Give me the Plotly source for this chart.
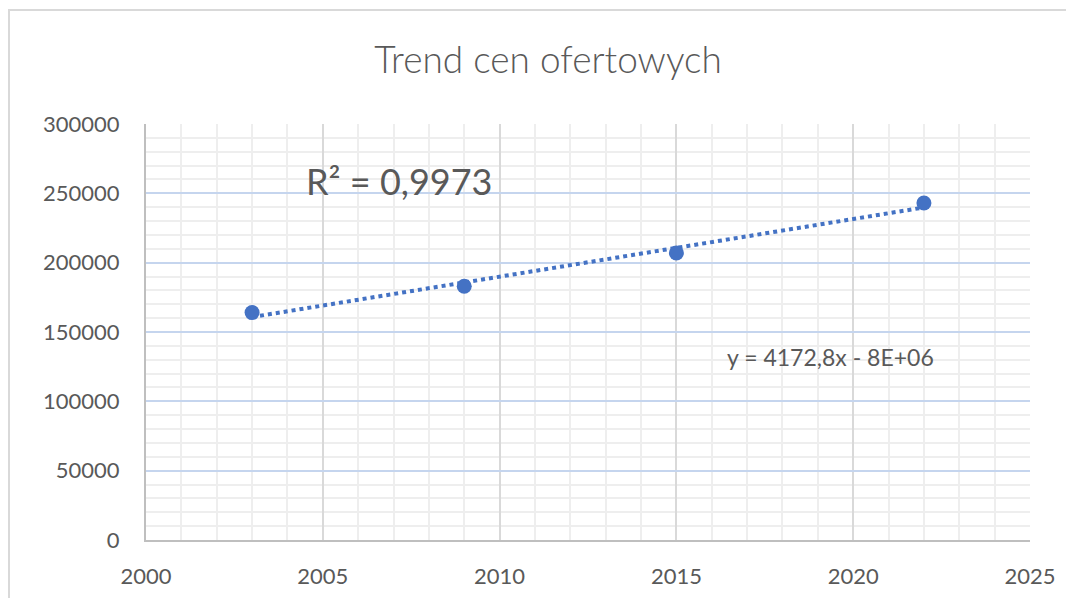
import numpy as np
import plotly.graph_objects as go

# ---- data ----
years = [2003, 2009, 2015, 2022]
prices = [164000, 183000, 207000, 243000]
title_text = "Trend cen ofertowych"
r2_label = "R² = 0,9973"
eq_label = "y = 4172,8x - 8E+06"
x_ticks = [2000, 2005, 2010, 2015, 2020, 2025]
y_ticks = [0, 50000, 100000, 150000, 200000, 250000, 300000]

BLUE = "#4472C4"
TXT = "#595959"
FONT = "Lato"

# linear trend from the data
coef = np.polyfit(years, prices, 1)
trend_x = [years[0], years[-1]]
trend_y = list(np.polyval(coef, trend_x))

fig = go.Figure()
fig.add_trace(go.Scatter(
    x=trend_x, y=trend_y, mode="lines",
    line=dict(color=BLUE, width=4, dash="dot"),
    hoverinfo="skip", showlegend=False,
))
fig.add_trace(go.Scatter(
    x=years, y=prices, mode="markers",
    marker=dict(color=BLUE, size=15),
    showlegend=False,
))

L, R, T, B = 138, 52, 116, 66
PW = 1074 - L - R
PH = 598 - T - B

fig.update_layout(
    width=1074, height=598,
    margin=dict(l=L, r=R, t=T, b=B),
    paper_bgcolor="white", plot_bgcolor="white",
    title=dict(text=title_text, x=540 / 1074, xanchor="center", xref="container",
               y=1 - 52 / 598, yanchor="middle", yref="container",
               font=dict(family=FONT, size=37, color=TXT, weight=300)),
    font=dict(family=FONT, color=TXT),
    xaxis=dict(
        range=[2000, 2025], tickvals=x_ticks, ticktext=[str(v) for v in x_ticks],
        showgrid=True, gridcolor="#D9D9D9", gridwidth=2,
        minor=dict(dtick=1, tick0=2000, showgrid=True, gridcolor="#EEEEEE", gridwidth=2),
        showline=True, linecolor="#BFBFBF", linewidth=2, mirror=False,
        ticks="", tickfont=dict(family=FONT, size=22, color=TXT),
        ticklabelstandoff=16, zeroline=False, fixedrange=True,
    ),
    yaxis=dict(
        range=[0, 300000], tickvals=y_ticks, ticktext=[str(v) for v in y_ticks],
        showgrid=True, gridcolor="#C5D5EE", gridwidth=2,
        minor=dict(dtick=10000, tick0=0, showgrid=True, gridcolor="#EEEEEE", gridwidth=2),
        showline=True, linecolor="#BFBFBF", linewidth=2,
        ticks="", tickfont=dict(family=FONT, size=22, color=TXT),
        ticklabelstandoff=20, zeroline=False, fixedrange=True,
    ),
    annotations=[
        dict(x=2007.15, y=258900, xref="x", yref="y", text=r2_label,
             showarrow=False, font=dict(family=FONT, size=36, color=TXT)),
        dict(x=2019.35, y=132000, xref="x", yref="y", text=eq_label,
             showarrow=False, font=dict(family=FONT, size=23, color=TXT)),
    ],
    shapes=[
        dict(type="rect", xref="paper", yref="paper",
             x0=(1 - L) / PW, x1=1.2, y0=-0.3, y1=(598 - B - 2) / PH,
             line=dict(color="#D9D9D9", width=2), fillcolor="rgba(0,0,0,0)",
             layer="below"),
    ],
)

fig.write_html("out.html")
